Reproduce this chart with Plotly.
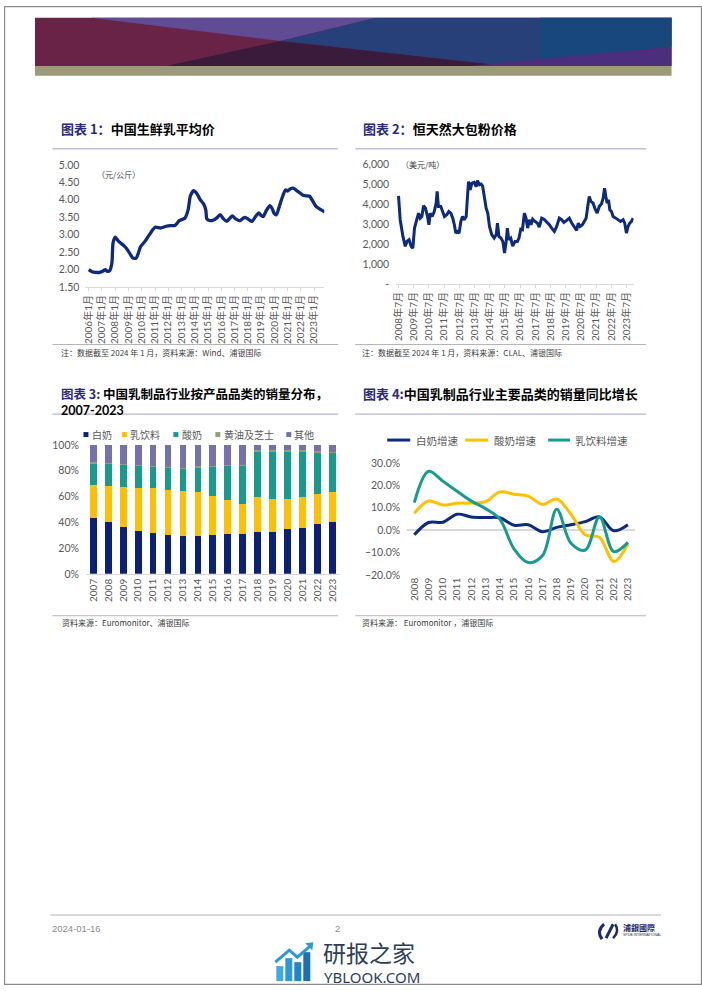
import plotly.graph_objects as go
from datetime import datetime

# ---------------- DATA ----------------
# Chart 1: China raw milk average price (yuan/kg)
milk_dates = [
    "2006-01", "2006-04", "2006-07", "2006-11",
    "2007-02", "2007-04", "2007-06", "2007-08", "2007-10", "2007-11",
    "2008-01", "2008-03", "2008-05", "2008-09", "2008-12",
    "2009-03", "2009-05", "2009-08", "2009-10", "2009-12",
    "2010-04", "2010-08",
    "2011-01", "2011-06", "2011-11",
    "2012-03", "2012-07", "2012-11",
    "2013-04", "2013-07", "2013-09", "2013-12",
    "2014-03", "2014-06", "2014-09", "2014-11", "2014-12",
    "2015-03", "2015-06", "2015-09", "2015-12",
    "2016-03", "2016-06", "2016-09", "2016-11",
    "2017-02", "2017-06", "2017-09", "2017-11",
    "2018-02", "2018-05", "2018-08", "2018-11",
    "2019-01", "2019-03", "2019-06", "2019-09", "2019-11",
    "2020-01", "2020-03", "2020-05", "2020-08", "2020-11",
    "2021-01", "2021-03", "2021-06", "2021-09", "2021-12",
    "2022-03", "2022-06", "2022-09", "2022-12",
    "2023-03", "2023-06", "2023-09", "2023-11",
]
milk_price = [
    2.00, 1.94, 1.92, 1.92,
    1.96, 2.00, 1.95, 1.97, 2.19, 2.76,
    2.93, 2.85, 2.78, 2.68, 2.57,
    2.42, 2.33, 2.33, 2.48, 2.66,
    2.81, 3.00,
    3.21, 3.19, 3.24,
    3.26, 3.26, 3.40,
    3.47, 3.71, 4.11, 4.26,
    4.17, 4.00, 3.88, 3.70, 3.45,
    3.40, 3.42, 3.48, 3.57,
    3.45, 3.38, 3.48, 3.54,
    3.45, 3.40, 3.48, 3.49,
    3.43, 3.38, 3.52, 3.62,
    3.55, 3.52, 3.70, 3.83, 3.75,
    3.60, 3.57, 3.75, 4.05, 4.28,
    4.25, 4.30, 4.33, 4.27, 4.20,
    4.13, 4.11, 4.10, 3.95,
    3.80, 3.74, 3.68, 3.65,
]
milk_tick_years = [2006, 2007, 2008, 2009, 2010, 2011, 2012, 2013, 2014,
                   2015, 2016, 2017, 2018, 2019, 2020, 2021, 2022, 2023]

# Chart 2: Fonterra WMP price (USD/t)
wmp_dates = [
    "2008-07-01", "2008-08-10", "2008-10-15", "2008-12-10",
    "2009-01-20", "2009-03-12", "2009-05-01", "2009-06-10", "2009-07-20", "2009-09-15", "2009-10-25", "2009-12-05",
    "2010-01-12", "2010-02-22", "2010-04-10", "2010-05-28", "2010-07-01", "2010-08-01", "2010-09-18", "2010-11-06", "2010-12-22",
    "2011-01-15", "2011-02-15", "2011-04-12", "2011-06-01", "2011-07-10", "2011-09-03", "2011-10-22", "2011-12-10",
    "2012-01-25", "2012-03-03", "2012-04-06", "2012-05-15", "2012-06-25", "2012-08-06", "2012-09-15", "2012-10-25", "2012-12-12",
    "2013-02-06", "2013-03-18", "2013-04-28", "2013-06-21", "2013-08-10", "2013-09-10", "2013-10-28", "2013-12-06",
    "2014-01-10", "2014-02-27", "2014-04-06", "2014-05-15", "2014-06-25", "2014-08-18", "2014-10-15", "2014-12-03",
    "2015-01-03", "2015-02-06", "2015-03-25", "2015-05-12", "2015-06-21", "2015-08-01", "2015-08-28", "2015-10-01", "2015-11-18",
    "2016-01-03", "2016-03-01", "2016-04-25", "2016-06-03", "2016-07-15", "2016-08-25", "2016-10-10", "2016-11-18", "2016-12-28",
    "2017-02-06", "2017-03-18", "2017-04-28", "2017-06-21", "2017-08-18", "2017-10-03", "2017-12-01",
    "2018-01-25", "2018-03-28", "2018-06-01", "2018-07-28", "2018-10-01", "2018-11-25",
    "2019-01-28", "2019-03-25", "2019-05-18", "2019-07-22", "2019-09-25", "2019-11-22",
    "2020-01-15", "2020-03-18", "2020-04-28", "2020-06-10", "2020-08-03", "2020-09-12", "2020-11-01", "2020-12-10",
    "2021-01-15", "2021-02-25", "2021-04-18", "2021-06-12", "2021-07-25", "2021-09-12", "2021-11-06", "2021-12-15",
    "2022-01-18", "2022-02-18", "2022-03-22", "2022-04-22", "2022-05-25", "2022-07-03", "2022-08-12", "2022-10-15", "2022-12-12",
    "2023-02-06", "2023-04-10", "2023-05-18", "2023-06-28", "2023-08-06", "2023-09-15", "2023-10-28", "2023-12-06",
]
wmp_price = [
    4420, 3220, 2385, 1885,
    2135, 2220, 1885, 1800, 2800, 3300, 3550, 3300,
    3380, 3920, 3800, 3385, 2970, 3550, 3380, 3630, 4050,
    4635, 3880, 3880, 3630, 3380, 3470, 3630, 3550,
    3300, 2970, 2550, 2630, 2550, 3135, 3380, 3220, 3380,
    5135, 4720, 5050, 5090, 4880, 5180, 4970, 5010,
    4920, 4220, 3800, 3550, 2885, 2470, 2300, 2470,
    3050, 2385, 2300, 2135, 1550, 2135, 2800, 2220, 2300,
    1900, 2135, 2135, 2300, 2750, 2720, 3550, 3300, 2800,
    3220, 2970, 3250, 3135, 3050, 2850, 3300,
    3250, 3135, 2970, 2800, 2630, 2885,
    3300, 3220, 3085, 3185, 3300, 3050,
    2885, 2685, 3050, 2885, 2970, 3135, 3300, 3885,
    4385, 4135, 4050, 3720, 3550, 3885, 4020, 4300,
    4800, 4385, 4050, 4220, 3720, 3630, 3380, 3300, 3220,
    3135, 3220, 3050, 2550, 2885, 3050, 3135, 3300,
]
wmp_tick_years = [2008, 2009, 2010, 2011, 2012, 2013, 2014, 2015,
                  2016, 2017, 2018, 2019, 2020, 2021, 2022, 2023]
wmp_tickvals = [0, 1000, 2000, 3000, 4000, 5000, 6000]
wmp_ticktext = ["-", "1,000", "2,000", "3,000", "4,000", "5,000", "6,000"]

# Chart 3: sales volume share by category (%)
share_years = ["2007", "2008", "2009", "2010", "2011", "2012", "2013", "2014", "2015",
               "2016", "2017", "2018", "2019", "2020", "2021", "2022", "2023"]
share_white = [43.2, 40.0, 36.7, 33.3, 31.5, 30.2, 29.2, 29.2, 30.0, 30.7, 30.7, 32.3, 32.6, 34.6, 35.9, 38.5, 40.6]
share_drink = [25.8, 28.0, 30.7, 33.1, 34.9, 35.2, 35.1, 34.1, 30.5, 26.7, 23.6, 27.7, 25.8, 23.5, 24.1, 23.5, 22.7]
share_yogurt = [17.0, 17.3, 17.4, 17.3, 16.8, 17.3, 17.6, 19.6, 23.0, 26.3, 29.7, 34.8, 36.4, 36.7, 34.8, 32.3, 30.5]
share_butter = [0.6, 0.6, 0.6, 0.6, 0.6, 0.6, 0.6, 0.6, 0.6, 0.6, 0.7, 1.0, 1.0, 1.0, 1.0, 1.0, 1.0]
share_other = [13.4, 14.1, 14.6, 15.7, 16.2, 16.7, 17.5, 16.5, 15.9, 15.7, 15.3, 4.2, 4.2, 4.2, 4.2, 4.7, 5.2]
share_names = ["白奶", "乳饮料", "酸奶", "黄油及芝士", "其他"]

# Chart 4: YoY growth (%)
growth_years = [2008, 2009, 2010, 2011, 2012, 2013, 2014, 2015,
                2016, 2017, 2018, 2019, 2020, 2021, 2022, 2023]
growth_white = [-2.1, 3.4, 3.5, 7.1, 5.9, 5.6, 5.5, 2.2, 2.4, -0.7, 1.2, 2.4, 3.8, 5.9, -0.3, 2.4]
growth_yogurt = [7.5, 13.0, 11.2, 12.0, 12.1, 12.7, 17.1, 16.0, 15.2, 11.5, 13.9, 7.1, -2.1, -3.2, -14.0, -6.2]
growth_drink = [12.3, 26.3, 21.9, 17.4, 13.0, 9.6, 4.9, -8.4, -14.5, -11.4, 9.3, -5.9, -8.9, 5.9, -9.6, -5.5]
growth_names = ["白奶增速", "酸奶增速", "乳饮料增速"]

# ---------------- STYLE ----------------
W, H = 702, 991
# the photographed page is inset slightly; map reference pixel positions to figure positions
OFFX, SX = 3.5, 0.995
OFFY, SY = 4.2, 0.9896
NAVY = "#0E2A7C"
BAR_NAVY = "#0B2177"
YELLOW = "#FFC000"
TEAL = "#179B8F"
BUTTER = "#93A07F"
OTHER = "#7472AD"
TICK = "#595959"
NUMF = "Lato, 'Noto Sans CJK SC', sans-serif"
CJK = "'Noto Sans CJK SC', sans-serif"
TITLE_NAVY = "#2B2A7A"


def px(x):
    return ((x - OFFX) / SX) / W


def py(y):
    return 1 - ((y - OFFY) / SY) / H


def date_range(d0, p0, d1, p1, a, b):
    t0 = datetime.fromisoformat(d0)
    t1 = datetime.fromisoformat(d1)
    k = (t1 - t0) / (p1 - p0)
    return [(t0 + k * (a - p0)).isoformat(), (t0 + k * (b - p0)).isoformat()]


fig = go.Figure()

# Chart 1
fig.add_trace(go.Scatter(x=[d + "-01" for d in milk_dates], y=milk_price, mode="lines",
                         line=dict(color=NAVY, width=3.3, shape="spline", smoothing=0.6),
                         xaxis="x", yaxis="y", showlegend=False, hoverinfo="skip"))
# Chart 2
fig.add_trace(go.Scatter(x=wmp_dates, y=wmp_price, mode="lines",
                         line=dict(color=NAVY, width=3),
                         xaxis="x2", yaxis="y2", showlegend=False, hoverinfo="skip"))
# Chart 3
for vals, col, nm in zip([share_white, share_drink, share_yogurt, share_butter, share_other],
                         [BAR_NAVY, YELLOW, TEAL, BUTTER, OTHER], share_names):
    fig.add_trace(go.Bar(x=share_years, y=vals, name=nm, marker=dict(color=col, line=dict(width=0)),
                         xaxis="x3", yaxis="y3", showlegend=False, hoverinfo="skip"))
# Chart 4
for vals, col, nm in zip([growth_white, growth_yogurt, growth_drink], [NAVY, YELLOW, TEAL], growth_names):
    fig.add_trace(go.Scatter(x=growth_years, y=vals, name=nm, mode="lines",
                             line=dict(color=col, width=3, shape="spline", smoothing=1.0),
                             xaxis="x4", yaxis="y4", showlegend=False, hoverinfo="skip"))

c1x = [85, 324]
c2x = [396, 633.5]
r1 = date_range("2006-01-01", 88.3, "2023-01-01", 313.8, c1x[0], c1x[1])
r2 = date_range("2008-07-01", 398.3, "2023-07-01", 626.5, c2x[0], c2x[1])

xt = dict(tickfont=dict(family=NUMF, size=10, color=TICK), tickangle=-90, showgrid=False, zeroline=False)
yt = dict(tickfont=dict(family=NUMF, size=10.5, color=TICK), showgrid=False, zeroline=False, ticks="")

fig.update_layout(
    width=W, height=H, margin=dict(l=0, r=0, t=0, b=0),
    paper_bgcolor="white", plot_bgcolor="rgba(0,0,0,0)", showlegend=False,
    barmode="stack", bargap=0.55,
    xaxis=dict(domain=[px(c1x[0]), px(c1x[1])], anchor="y", type="date", range=r1,
               tickmode="array", tickvals=[f"{y}-01-01" for y in milk_tick_years],
               ticktext=[f"{y}年1月" for y in milk_tick_years],
               showline=True, linecolor="#D9D9D9", ticks="outside", ticklen=3, tickcolor="#D9D9D9", **xt),
    yaxis=dict(domain=[py(285.7), py(163.3)], anchor="x", range=[1.5, 5.0], dtick=0.5, tickformat=".2f",
               ticklabelstandoff=5, **yt),
    xaxis2=dict(domain=[px(c2x[0]), px(c2x[1])], anchor="y2", type="date", range=r2,
                tickmode="array", tickvals=[f"{y}-07-01" for y in wmp_tick_years],
                ticktext=[f"{y}年7月" for y in wmp_tick_years],
                showline=True, linecolor="#D9D9D9", ticks="outside", ticklen=3, tickcolor="#D9D9D9", **xt),
    yaxis2=dict(domain=[py(282.7), py(162.7)], anchor="x2", range=[0, 6000], tickmode="array",
                tickvals=wmp_tickvals, ticktext=wmp_ticktext, ticklabelstandoff=6, **yt),
    xaxis3=dict(domain=[px(85.5), px(339.5)], anchor="y3", type="category",
                showline=True, linecolor="#D9D9D9", ticks="", **xt),
    yaxis3=dict(domain=[py(573), py(444)], anchor="x3", range=[0, 100], dtick=20, ticksuffix="%",
                ticklabelstandoff=6, **yt),
    xaxis4=dict(domain=[px(407), px(635)], anchor="y4", range=[2007.5, 2023.5], tickmode="array",
                tickvals=growth_years, ticktext=[str(y) for y in growth_years], ticks="",
                showline=False, **xt),
    yaxis4=dict(domain=[py(574), py(462)], anchor="x4", range=[-20, 30], dtick=10, tickformat=".1f",
                ticksuffix="%", ticklabelstandoff=6,
                tickfont=dict(family=NUMF, size=10.5, color=TICK), showgrid=False, ticks="",
                zeroline=True, zerolinecolor="#D9D9D9", zerolinewidth=1.5),
)

shapes = []
ann = []


def poly(points, color):
    d = "M " + " L ".join(f"{px(x):.5f},{py(y):.5f}" for x, y in points) + " Z"
    shapes.append(dict(type="path", xref="paper", yref="paper", path=d, fillcolor=color,
                       line=dict(width=0), layer="above"))


def hline(x0, x1, y, color, w=1):
    shapes.append(dict(type="line", xref="paper", yref="paper", x0=px(x0), x1=px(x1), y0=py(y), y1=py(y),
                       line=dict(color=color, width=w)))


def text(x, y, s, size, color="#000", family=CJK, xanchor="left", yanchor="middle"):
    ann.append(dict(x=px(x), y=py(y), xref="paper", yref="paper", text=s, showarrow=False, align="left",
                    xanchor=xanchor, yanchor=yanchor, font=dict(size=size, color=color, family=family)))


# page frame (at the figure edge)
shapes.append(dict(type="rect", xref="paper", yref="paper", x0=0.0008, x1=0.9992, y0=0.0006, y1=0.9994,
                   line=dict(color="#8A8A8A", width=1.2), fillcolor="rgba(0,0,0,0)"))

# header banner
poly([(34.5, 16), (671.5, 16), (671.5, 64.3), (34.5, 64.3)], "#692347")
poly([(90, 16), (376, 16), (280, 39.3)], "#5F4C95")
poly([(376, 16), (671.5, 16), (671.5, 45), (489, 62.5), (280, 39.3)], "#28407A")
poly([(540, 16), (671.5, 16), (671.5, 45), (540, 57.5)], "#17477D")
poly([(280, 39.3), (166, 64.3), (506, 64.3)], "#3A1B3B")
poly([(470, 64.3), (671.5, 45), (671.5, 64.3)], "#4B2E7E")
poly([(34.5, 64.3), (671.5, 64.3), (671.5, 74), (34.5, 74)], "#9B9A79")

# titles
text(59, 127, f'<b><span style="color:{TITLE_NAVY}">图表 1：</span>中国生鲜乳平均价</b>', 13)
text(361, 127, f'<b><span style="color:{TITLE_NAVY}">图表 2：</span>恒天然大包粉价格</b>', 13)
text(59, 399.5, f'<b><span style="color:{TITLE_NAVY}">图表 3:</span> 中国乳制品行业按产品品类的销量分布，'
     f'<br><span style="font-family:Lato">2007-2023</span></b>', 12.5)
text(361, 392, f'<b><span style="color:{TITLE_NAVY}">图表 4:</span>中国乳制品行业主要品类的销量同比增长</b>', 13)

# separators
for (a, b) in [(52, 338), (355, 646)]:
    hline(a, b, 147.3, "#A3A3C9")
    hline(a, b, 343.3, "#B5B5B5")
    hline(a, b, 413, "#A3A3C9")
    hline(a, b, 615, "#B5B5B5")

# units
text(95, 173, "（元/公斤）", 8, "#404040")
text(399, 163, "（美元/吨）", 8, "#404040")

# notes
text(59, 351, "注：数据截至 2024 年 1 月，资料来源：Wind、浦银国际", 8, "#404040")
text(360, 351, "注：数据截至 2024 年 1 月，资料来源：CLAL、浦银国际", 8, "#404040")
text(60, 622, "资料来源：Euromonitor、浦银国际", 8, "#404040")
text(360, 622, "资料来源： Euromonitor ，浦银国际", 8, "#404040")

# legend chart 3
for xs, xt_, col, nm in zip([83, 121.5, 173, 215, 286], [89.5, 128, 179.5, 221.5, 292],
                            [BAR_NAVY, YELLOW, TEAL, BUTTER, OTHER], share_names):
    shapes.append(dict(type="rect", xref="paper", yref="paper", x0=px(xs), x1=px(xs + 5),
                       y0=py(436), y1=py(431), fillcolor=col, line=dict(width=0)))
    text(xt_, 433.5, nm, 10, TICK)

# legend chart 4
for x0, x1, xt_, col, nm in zip([387, 465, 548], [410, 488, 570], [414, 491.5, 573],
                                [NAVY, YELLOW, TEAL], growth_names):
    shapes.append(dict(type="line", xref="paper", yref="paper", x0=px(x0), x1=px(x1), y0=py(439), y1=py(439),
                       line=dict(color=col, width=3)))
    text(xt_, 439, nm, 10.5, TICK)

# page footer
hline(50, 661, 914.7, "#D9D9D9", 2)
text(50, 928, "2024-01-16", 9.5, "#8C8C8C", family="'Liberation Sans', Arial, sans-serif")
text(337, 928, "2", 9.5, "#8C8C8C", family="'Liberation Sans', Arial, sans-serif", xanchor="center")
# logo
shapes.append(dict(type="path", xref="paper", yref="paper",
                   path=f"M {px(604)},{py(924)} Q {px(596)},{py(931)} {px(602)},{py(939)}",
                   line=dict(color="#1B2B6E", width=3)))
shapes.append(dict(type="path", xref="paper", yref="paper",
                   path=f"M {px(613)},{py(924)} L {px(606)},{py(938)}",
                   line=dict(color="#1B2B6E", width=3)))
shapes.append(dict(type="path", xref="paper", yref="paper",
                   path=f"M {px(613)},{py(938)} Q {px(620)},{py(931)} {px(615)},{py(924)}",
                   line=dict(color="#1B2B6E", width=2.5)))
text(621, 927, "<b>浦銀國際</b>", 8, "#1B2B6E")
text(621, 935, "SPDB INTERNATIONAL", 3.5, "#1B2B6E", family="'Liberation Sans', sans-serif")

# watermark
for (x0, y0, col) in [(276, 966, "#3FA9E6"), (285, 958, "#2E97D8"), (294, 962, "#2384C9"), (303, 952, "#1A6FB5")]:
    shapes.append(dict(type="rect", xref="paper", yref="paper", x0=px(x0), x1=px(x0 + 7),
                       y0=py(981), y1=py(y0), fillcolor=col, line=dict(width=0)))
shapes.append(dict(type="path", xref="paper", yref="paper",
                   path=f"M {px(275)},{py(962)} L {px(289)},{py(950)} L {px(297)},{py(957)} L {px(311)},{py(945)}",
                   line=dict(color="#2E97D8", width=3)))
poly([(305, 943), (313, 942), (312, 950)], "#2E97D8")
text(321, 951.5, "研报之家", 23, "#2D3E58")
text(322, 976.5, "YBLOOK.COM", 15, "#2D3E58", family="'Noto Sans', sans-serif")

fig.update_layout(shapes=shapes, annotations=ann)
post = ("document.documentElement.style.margin='0';document.documentElement.style.padding='0';"
        "document.documentElement.style.overflow='hidden';"
        "document.body.style.margin='0';document.body.style.padding='0';document.body.style.overflow='hidden';"
        "var d=document.getElementById('{plot_id}');d.style.position='fixed';d.style.left='0px';d.style.top='0px';")
fig.write_html("out.html", config={"displayModeBar": False}, post_script=post)
